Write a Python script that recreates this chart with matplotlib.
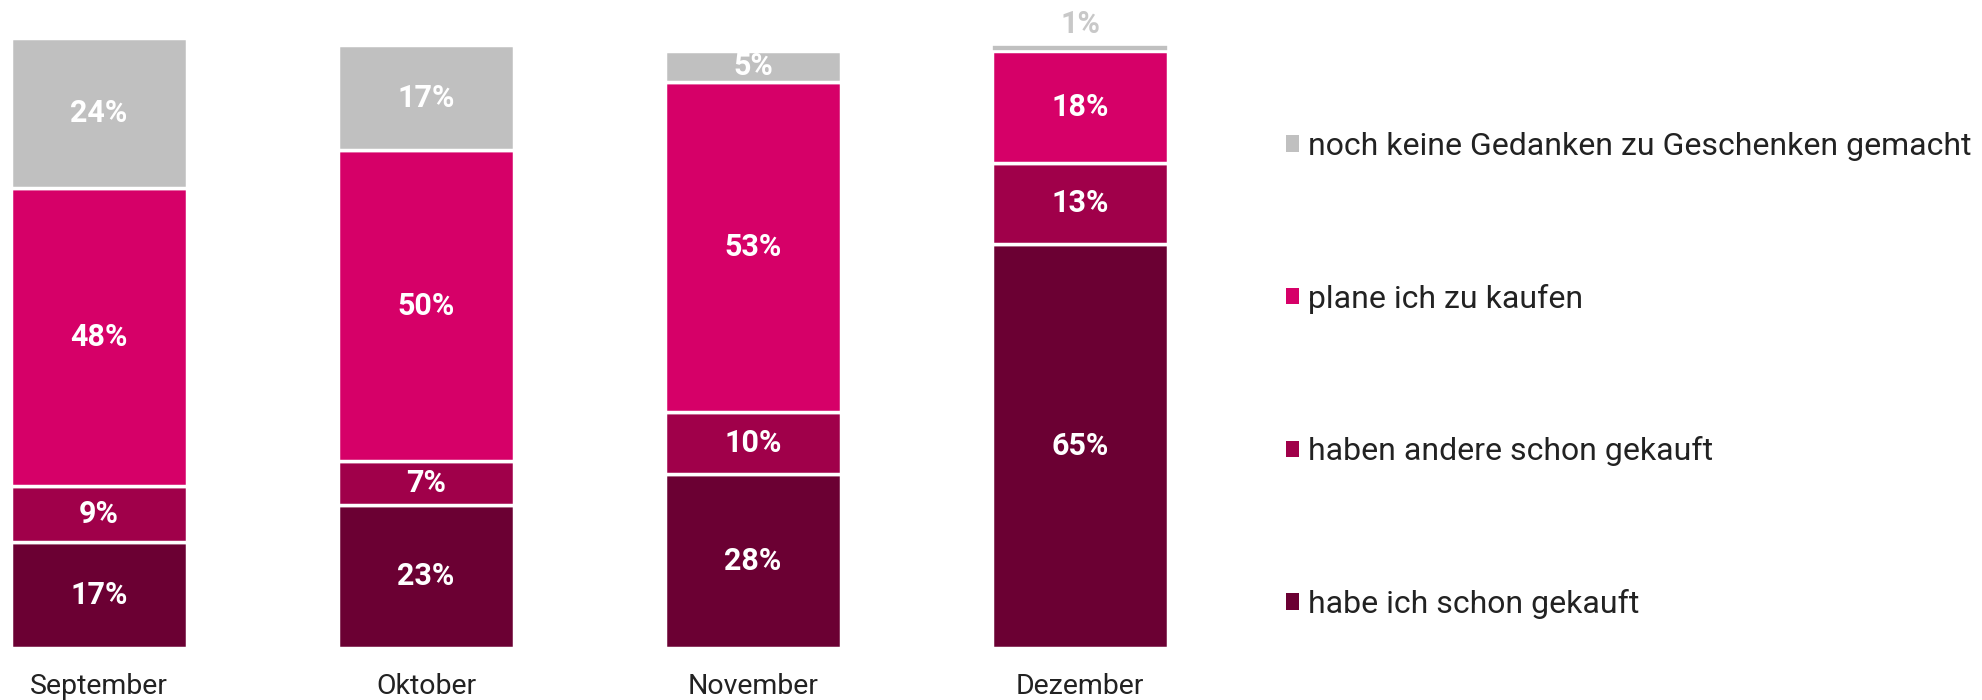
import matplotlib.pyplot as plt
from matplotlib.patches import Patch

plt.rcParams['font.family'] = ['Roboto', 'DejaVu Sans']

months = ["September", "Oktober", "November", "Dezember"]
# stacked from the bottom up
series_names = [
    "habe ich schon gekauft",
    "haben andere schon gekauft",
    "plane ich zu kaufen",
    "noch keine Gedanken zu Geschenken gemacht",
]
habe_gekauft = [17, 23, 28, 65]
andere_gekauft = [9, 7, 10, 13]
plane_kaufen = [48, 50, 53, 18]
keine_gedanken = [24, 17, 5, 1]

colors = ["#6B0033", "#A0004A", "#D60068", "#C0C0C0"]

fig = plt.figure(figsize=(19.83, 7), dpi=100)
ax = fig.add_axes([0, 52 / 700, 1, 622 / 700])

x = list(range(len(months)))
width = 0.538
bottom = [0] * len(months)
for name, values, color in zip(series_names,
                               [habe_gekauft, andere_gekauft, plane_kaufen, keine_gedanken],
                               colors):
    bars = ax.bar(x, values, width, bottom=bottom, color=color,
                  edgecolor="white", linewidth=2.5, label=name)
    for bar, v, b in zip(bars, values, bottom):
        cx = bar.get_x() + bar.get_width() / 2
        if v >= 3:
            ax.text(cx, b + v / 2, f"{v}%", ha="center", va="center",
                    color="white", fontsize=22, fontweight="bold")
        else:
            # too thin for a label inside, put it above the bar
            bar.set_linewidth(1.2)
            ax.annotate(f"{v}%", (cx, b + v), xytext=(0, 4),
                        textcoords="offset points", ha="center", va="bottom",
                        color="#C8C8C8", fontsize=22, fontweight="bold")
    bottom = [b + v for b, v in zip(bottom, values)]

ax.set_xlim(-99 / 327, (1983 - 99) / 327)
ax.set_ylim(0, 100)
ax.set_xticks(x)
ax.set_xticklabels(months, fontsize=20.5, color="#222222")
ax.tick_params(axis="x", length=0, pad=18)
ax.set_yticks([])
for spine in ax.spines.values():
    spine.set_visible(False)

handles = [Patch(facecolor=c, edgecolor="none") for c in colors[::-1]]
fig.legend(handles, series_names[::-1], loc="upper left",
           bbox_to_anchor=(1286 / 1983, 1 - 132 / 700), frameon=False,
           fontsize=23, labelcolor="#222222", handlelength=0.41,
           handleheight=0.41, handletextpad=0.28, labelspacing=3.84,
           borderpad=0, borderaxespad=0)

fig.savefig("out.png", dpi=100)
